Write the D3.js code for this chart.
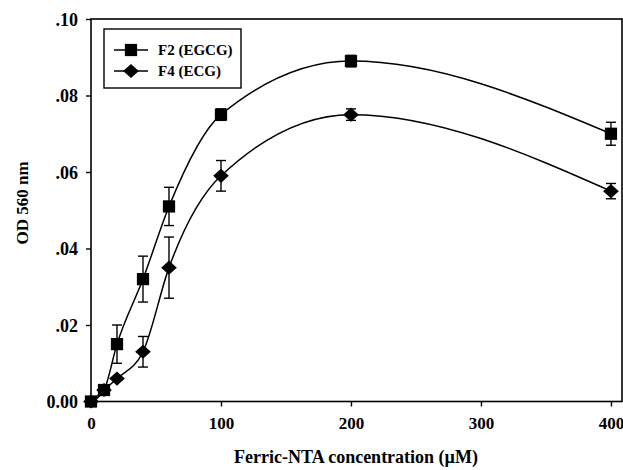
<!DOCTYPE html>
<html>
<head>
<meta charset="utf-8">
<script src="https://cdn.jsdelivr.net/npm/d3@7"></script>
<style>
  html, body { margin: 0; padding: 0; background: #fff; }
  svg { display: block; }
  text { font-family: "Liberation Serif", "Times New Roman", serif; font-weight: bold; fill: #000; }
</style>
</head>
<body>
<svg id="chart" width="623" height="470"></svg>
<script>
// Ferric-NTA concentration (µM)
const concentrations = [0, 10, 20, 40, 60, 100, 200, 400];

// OD 560 nm, mean and error
const f2Values = [0.000, 0.003, 0.015, 0.032, 0.051, 0.075, 0.089, 0.070];
const f2Errors = [0.000, 0.001, 0.005, 0.006, 0.005, 0.0015, 0.0015, 0.003];
const f4Values = [0.000, 0.003, 0.006, 0.013, 0.035, 0.059, 0.075, 0.055];
const f4Errors = [0.000, 0.001, 0.001, 0.004, 0.008, 0.004, 0.0015, 0.002];

const seriesNames = ["F2 (EGCG)", "F4 (ECG)"];
const xTicks = [0, 100, 200, 300, 400];
const yTicks = [0, 0.02, 0.04, 0.06, 0.08, 0.10];
const yTickLabels = ["0.00", ".02", ".04", ".06", ".08", ".10"];

const svg = d3.select("#chart");
const margin = { left: 91, right: 1, top: 19, bottom: 68.5 };
const W = 623, H = 470;

const x = d3.scaleLinear().domain([0, 408.5]).range([margin.left, W - margin.right]);
const y = d3.scaleLinear().domain([0, 0.10]).range([H - margin.bottom, margin.top]);

// wide diamond marker
const wideDiamond = {
  draw(ctx, size) {
    const hw = Math.sqrt(size) * 0.62, hh = Math.sqrt(size) * 0.56;
    ctx.moveTo(0, -hh); ctx.lineTo(hw, 0); ctx.lineTo(0, hh); ctx.lineTo(-hw, 0); ctx.closePath();
  }
};

// plot frame
svg.append("rect")
  .attr("x", x.range()[0]).attr("y", y.range()[1])
  .attr("width", x.range()[1] - x.range()[0])
  .attr("height", y.range()[0] - y.range()[1])
  .attr("fill", "none").attr("stroke", "#000").attr("stroke-width", 1.6);

// axes
const xAxis = svg.append("g")
  .attr("transform", `translate(0,${y.range()[0]})`)
  .call(d3.axisBottom(x).tickValues(xTicks).tickSize(5).tickPadding(10).tickFormat(d3.format("d")));
const yAxis = svg.append("g")
  .attr("transform", `translate(${x.range()[0]},0)`)
  .call(d3.axisLeft(y).tickValues(yTicks).tickSize(5).tickPadding(8)
    .tickFormat((d, i) => yTickLabels[i]));

[xAxis, yAxis].forEach(g => {
  g.select(".domain").remove();
  g.selectAll(".tick line").attr("stroke", "#000").attr("stroke-width", 1.4);
  g.selectAll(".tick text")
    .style("font-family", "Liberation Serif, serif").style("font-weight", "bold").attr("fill", "#000");
});
xAxis.selectAll(".tick text").style("font-size", "17px");
yAxis.selectAll(".tick text").style("font-size", "18px").attr("dy", "0.35em");

// axis titles
svg.append("text")
  .attr("x", 356)
  .attr("y", 463)
  .attr("text-anchor", "middle")
  .style("font-size", "18px")
  .text("Ferric-NTA concentration (\u00B5M)");

svg.append("text")
  .attr("transform", "translate(28,203) rotate(-90)")
  .attr("text-anchor", "middle")
  .style("font-size", "17px")
  .text("OD 560 nm");

const series = [
  { name: seriesNames[0], values: f2Values, errors: f2Errors, symbol: d3.symbolSquare, size: 150 },
  { name: seriesNames[1], values: f4Values, errors: f4Errors, symbol: wideDiamond, size: 160 }
];

const line = d3.line()
  .x(d => x(d[0]))
  .y(d => y(d[1]))
  .curve(d3.curveMonotoneX);

series.forEach(s => {
  const pts = concentrations.map((c, i) => [c, s.values[i], s.errors[i]]);

  svg.append("path")
    .datum(pts)
    .attr("d", line)
    .attr("fill", "none")
    .attr("stroke", "#000")
    .attr("stroke-width", 1.5);

  const eb = svg.append("g").attr("stroke", "#000").attr("stroke-width", 1.4);
  pts.filter(p => p[2] > 0.0012).forEach(p => {
    const cx = x(p[0]);
    const top = y(p[1] + p[2]);
    const bot = y(p[1] - p[2]);
    eb.append("line").attr("x1", cx).attr("x2", cx).attr("y1", top).attr("y2", bot);
    eb.append("line").attr("x1", cx - 5).attr("x2", cx + 5).attr("y1", top).attr("y2", top);
    eb.append("line").attr("x1", cx - 5).attr("x2", cx + 5).attr("y1", bot).attr("y2", bot);
  });

  svg.append("g").selectAll("path")
    .data(pts)
    .join("path")
    .attr("transform", d => `translate(${x(d[0])},${y(d[1])})`)
    .attr("d", d3.symbol().type(s.symbol).size(s.size))
    .attr("fill", "#000");
});

// legend
const lg = svg.append("g");
lg.append("rect")
  .attr("x", 104).attr("y", 29).attr("width", 137).attr("height", 59)
  .attr("fill", "#fff").attr("stroke", "#000").attr("stroke-width", 1.4);
series.forEach((s, i) => {
  const ly = 50 + i * 21;
  lg.append("line").attr("x1", 114).attr("x2", 148).attr("y1", ly).attr("y2", ly)
    .attr("stroke", "#000").attr("stroke-width", 1.4);
  lg.append("path")
    .attr("transform", `translate(131,${ly})`)
    .attr("d", d3.symbol().type(s.symbol).size(s.size))
    .attr("fill", "#000");
  lg.append("text").attr("x", 158).attr("y", ly).attr("dy", "0.35em")
    .style("font-size", "15px").text(s.name);
});
</script>
</body>
</html>
